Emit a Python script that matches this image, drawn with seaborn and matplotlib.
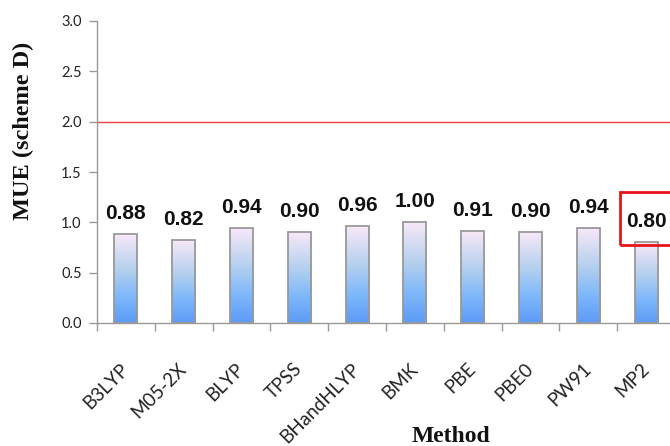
import numpy as np
import pandas as pd
import matplotlib
matplotlib.use("Agg")
import matplotlib.pyplot as plt
from matplotlib.colors import LinearSegmentedColormap
from matplotlib.patches import Rectangle
import seaborn as sns

methods = ["B3LYP", "M05-2X", "BLYP", "TPSS", "BHandHLYP", "BMK", "PBE", "PBE0", "PW91", "MP2"]
mue = [0.88, 0.82, 0.94, 0.90, 0.96, 1.00, 0.91, 0.90, 0.94, 0.80]
y_ticks = [0.0, 0.5, 1.0, 1.5, 2.0, 2.5, 3.0]
threshold = 2.0
highlight = "MP2"

sns.set_theme(style="white")
plt.rcParams["font.family"] = ["Lato", "DejaVu Sans"]

df = pd.DataFrame({"Method": methods, "MUE": mue})

fig = plt.figure(figsize=(6.7, 4.46), dpi=100)
ax = fig.add_axes([97 / 670, 1 - 323 / 446, 578 / 670, 302 / 446])

sns.barplot(data=df, x="Method", y="MUE", ax=ax, width=0.4,
            color="#8fbdf5", edgecolor="#999999", linewidth=1.3, zorder=3)

# vertical gradient fill clipped to each bar
cmap = LinearSegmentedColormap.from_list(
    "bar_grad", [(0.0, "#5c9bf7"), (0.3, "#7fb8fb"), (0.6, "#b4d0ee"), (1.0, "#f8e8f8")])
grad = np.linspace(0, 1, 256).reshape(-1, 1)
for patch in ax.patches:
    x0, y0 = patch.get_x(), patch.get_y()
    w, h = patch.get_width(), patch.get_height()
    im = ax.imshow(grad, cmap=cmap, origin="lower", aspect="auto",
                   extent=[x0, x0 + w, y0, y0 + h], zorder=2.5)
    im.set_clip_path(patch)
    patch.set_facecolor("none")

ax.set_xlim(-0.5, len(methods) - 0.5)
ax.set_ylim(0, 3.0)
ax.set_yticks(y_ticks)
ax.set_yticklabels([f"{t:.1f}" for t in y_ticks], fontsize=10.5, color="#222222")

# value labels above bars
for i, v in enumerate(mue):
    ax.text(i, v + 0.11, f"{v:.2f}", ha="center", va="bottom", fontsize=15,
            fontweight="bold", family=["Liberation Sans", "DejaVu Sans"],
            color="#111111", zorder=5)

# highlight box around the MP2 label
hi = methods.index(highlight)
ax.add_patch(Rectangle((hi - 0.45, 0.775), 1.2, 0.525, fill=False,
                       edgecolor="#e8141c", linewidth=2.0, clip_on=False, zorder=6))

ax.axhline(threshold, color="#f04040", linewidth=1.0, zorder=1)

# ticks between categories on x, outward ticks on y
ax.set_xticks(np.arange(len(methods)))
ax.set_xticklabels(methods, rotation=45, ha="right", va="center",
                   rotation_mode="anchor", fontsize=13.5, color="#222222")
ax.set_xticks(np.arange(len(methods) + 1) - 0.5, minor=True)
ax.tick_params(axis="x", which="major", length=0, pad=31)
ax.tick_params(axis="x", which="minor", length=6, width=1, color="#999999",
               direction="out", bottom=True)
ax.tick_params(axis="y", length=6, width=1, color="#999999", direction="out",
               left=True, pad=5)

for side in ["top", "right"]:
    ax.spines[side].set_visible(False)
for side in ["left", "bottom"]:
    ax.spines[side].set_color("#999999")
    ax.spines[side].set_linewidth(1.0)

ax.set_xlabel("Method", fontsize=17, fontweight="bold",
              family=["Liberation Serif", "DejaVu Serif"], color="#111111")
ax.set_ylabel("MUE (scheme D)", fontsize=17.5, fontweight="bold",
              family=["Liberation Serif", "DejaVu Serif"], color="#111111")
ax.xaxis.set_label_coords((451 - 97) / 578, (323 - 436) / 302)
ax.xaxis.label.set_va("center")
ax.yaxis.set_label_coords((23 - 97) / 578, (323 - 131) / 302)
ax.yaxis.label.set_va("center")

fig.savefig("out.png", dpi=100)
